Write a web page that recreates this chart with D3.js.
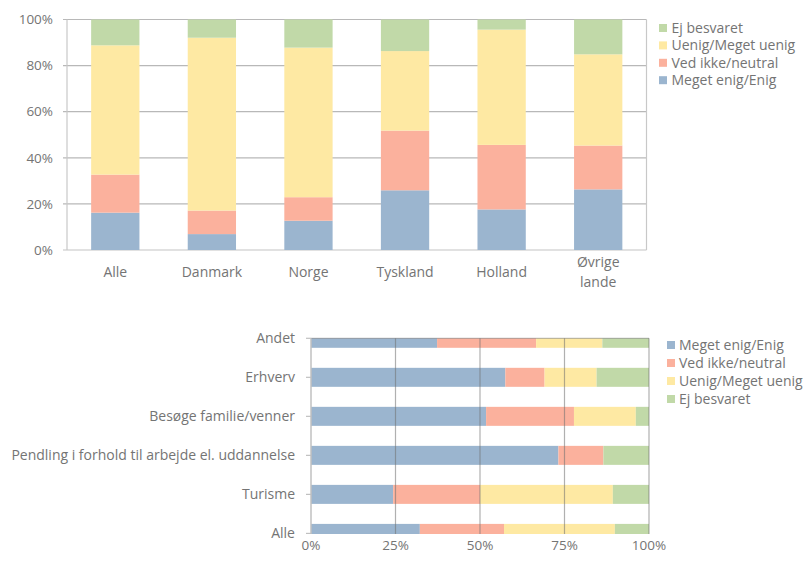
<!DOCTYPE html>
<html><head><meta charset="utf-8">
<script src="https://cdn.jsdelivr.net/npm/d3@7"></script>
<style>
body{margin:0;background:#fff;}
svg text{font-family:"Open Sans",sans-serif;fill:#747474;}
</style></head>
<body><svg id="c" width="806" height="562"></svg>
<script>
// ---- Data ----
const seriesNames = ["Meget enig/Enig","Ved ikke/neutral","Uenig/Meget uenig","Ej besvaret"];
const seriesColors = ["#9bb5cf","#fbb19d","#fee9a3","#c1d9a8"];

// Top chart (by country), percent
const countries = ["Alle","Danmark","Norge","Tyskland","Holland","Øvrige lande"];
const topEnig    = [16.2, 6.9, 12.7, 25.9, 17.6, 26.3];
const topNeutral = [16.5, 10.2, 10.2, 25.9, 28.0, 19.0];
const topUenig   = [56.1, 75.0, 64.9, 34.5, 50.0, 39.6];
const topEj      = [11.2, 7.9, 12.2, 13.7, 4.4, 15.1];
const topTicks = [0,20,40,60,80,100];

// Bottom chart (by purpose), percent; listed bottom to top
const purposes = ["Alle","Turisme","Pendling i forhold til arbejde el. uddannelse","Besøge familie/venner","Erhverv","Andet"];
const botEnig    = [32.2, 24.3, 73.2, 51.8, 57.5, 37.3];
const botNeutral = [24.9, 25.7, 13.3, 26.0, 11.6, 29.3];
const botUenig   = [32.8, 39.3, 0.0, 18.3, 15.4, 19.6];
const botEj      = [10.1, 10.7, 13.5, 3.9, 15.5, 13.8];
const botTicks = [0,25,50,75,100];

const svg = d3.select("#c");

function stackRows(cats, arrs){
  return cats.map((c,i)=>{
    const o={cat:c};
    seriesNames.forEach((s,j)=>o[s]=arrs[j][i]);
    return o;
  });
}

// ---------- Top chart ----------
(function(){
  const L=67, R=646.5, T=19.5, B=250;
  const rows = stackRows(countries,[topEnig,topNeutral,topUenig,topEj]);
  const stacked = d3.stack().keys(seriesNames)(rows);
  const x = d3.scaleBand().domain(countries).range([L,R]).paddingInner(0.5).paddingOuter(0.25);
  const y = d3.scaleLinear().domain([0,100]).range([B,T]);
  const g = svg.append("g");
  g.selectAll("line.grid").data(topTicks).join("line")
    .attr("x1",L-4).attr("x2",R).attr("y1",d=>y(d)).attr("y2",d=>y(d))
    .attr("stroke",d=>d===0?"#c4c4c4":"#b8b8b8").attr("stroke-width",1.2);
  g.append("line").attr("x1",L).attr("x2",L).attr("y1",T).attr("y2",B).attr("stroke","#c8c8c8").attr("stroke-width",1.2);
  g.append("line").attr("x1",R).attr("x2",R).attr("y1",T).attr("y2",B).attr("stroke","#c8c8c8").attr("stroke-width",1.2);
  stacked.forEach((layer,j)=>{
    g.selectAll(null).data(layer).join("rect")
      .attr("x",d=>x(d.data.cat)).attr("width",x.bandwidth())
      .attr("y",d=>y(d[1])).attr("height",d=>y(d[0])-y(d[1]))
      .attr("fill",seriesColors[j]);
  });
  g.selectAll("text.yt").data(topTicks).join("text")
    .attr("x",L-14).attr("y",d=>y(d)).attr("dy","0.35em").attr("text-anchor","end")
    .attr("font-size",13.5).text(d=>d+"%");
  countries.forEach(c=>{
    const words = c==="Øvrige lande" ? ["Øvrige","lande"] : [c];
    const t = g.append("text").attr("text-anchor","middle").attr("font-size",14)
      .attr("x",x(c)+x.bandwidth()/2);
    words.forEach((w,k)=>{
      t.append("tspan").attr("x",x(c)+x.bandwidth()/2)
       .attr("y",277 + (k - (words.length-1)/2)*19.5).text(w);
    });
  });
  const leg = seriesNames.map((s,i)=>({s,c:seriesColors[i]})).reverse();
  leg.forEach((d,i)=>{
    const cy = 28 + i*17.4;
    g.append("rect").attr("x",659).attr("y",cy-4).attr("width",8).attr("height",8).attr("fill",d.c);
    g.append("text").attr("x",671.5).attr("y",cy).attr("dy","0.35em").attr("font-size",14).text(d.s);
  });
})();

// ---------- Bottom chart ----------
(function(){
  const L=311, R=649, T=338.3, B=534;
  const rows = stackRows(purposes,[botEnig,botNeutral,botUenig,botEj]);
  const stacked = d3.stack().keys(seriesNames)(rows);
  const x = d3.scaleLinear().domain([0,100]).range([L,R]);
  const y = d3.scalePoint().domain(purposes).range([533.4,T]);
  const bh = 19;
  const g = svg.append("g");
  svg.append("defs").append("clipPath").attr("id","clipB")
    .append("rect").attr("x",L).attr("y",T).attr("width",R-L+2).attr("height",B-T);
  const bars = g.append("g").attr("clip-path","url(#clipB)");
  stacked.forEach((layer,j)=>{
    bars.selectAll(null).data(layer).join("rect")
      .attr("x",d=>x(d[0])).attr("width",d=>x(d[1])-x(d[0]))
      .attr("y",d=>y(d.data.cat)-bh/2).attr("height",bh)
      .attr("fill",seriesColors[j]);
  });
  g.selectAll("line.vg").data(botTicks.filter(d=>d>0)).join("line")
    .attr("x1",d=>x(d)).attr("x2",d=>x(d)).attr("y1",T).attr("y2",B)
    .attr("stroke","#6f6f6f").attr("stroke-opacity",0.55).attr("stroke-width",1.2);
  g.append("line").attr("x1",L).attr("x2",R).attr("y1",T).attr("y2",T)
    .attr("stroke","#6f6f6f").attr("stroke-opacity",0.45).attr("stroke-width",1.2);
  g.append("line").attr("x1",L).attr("x2",L).attr("y1",T).attr("y2",B).attr("stroke","#c0c0c0").attr("stroke-width",1.5);
  g.selectAll("line.yt").data(purposes).join("line")
    .attr("x1",L-5).attr("x2",L).attr("y1",d=>y(d)).attr("y2",d=>y(d)).attr("stroke","#c0c0c0").attr("stroke-width",1.2);
  g.selectAll("text.yl").data(purposes).join("text")
    .attr("x",L-16).attr("y",d=>y(d)).attr("dy","0.35em").attr("text-anchor","end")
    .attr("font-size",14).text(d=>d);
  g.selectAll("text.xl").data(botTicks).join("text")
    .attr("x",d=>x(d)).attr("y",550).attr("text-anchor","middle")
    .attr("font-size",13.5).text(d=>d+"%");
  seriesNames.forEach((s,i)=>{
    const cy = 345 + i*18;
    g.append("rect").attr("x",667).attr("y",cy-4).attr("width",8).attr("height",8).attr("fill",seriesColors[i]);
    g.append("text").attr("x",679).attr("y",cy).attr("dy","0.35em").attr("font-size",14).text(s);
  });
})();
</script></body></html>
